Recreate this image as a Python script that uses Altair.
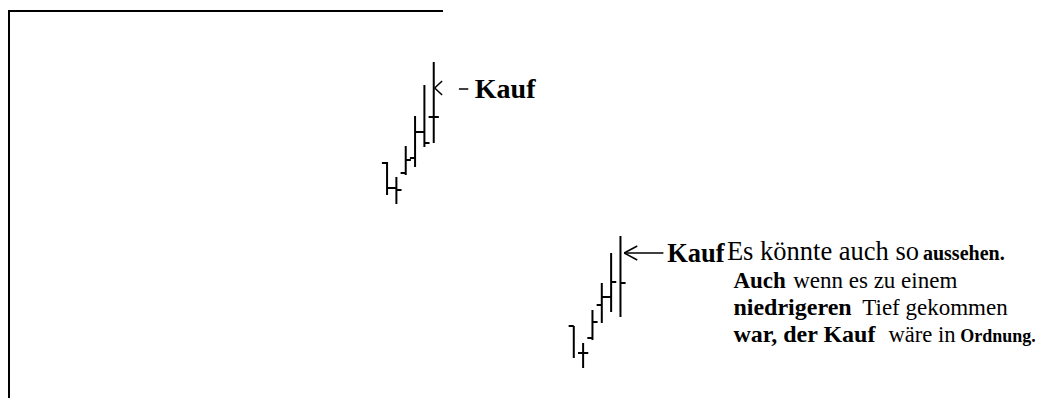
import altair as alt
import pandas as pd

# ---- OHLC bars (two groups) ----
days = [40, 41, 42, 43, 44, 45, 60, 61, 62, 63, 64, 65]
highs = [23.6, 22.1, 25.2, 28.2, 31.3, 33.6, 7.2, 5.5, 8.8, 11.5, 14.5, 16.2]
lows = [20.3, 19.4, 22.3, 23.1, 25.1, 25.5, 4.0, 3.0, 5.8, 7.5, 8.6, 8.1]
opens = [23.5, 21.0, 22.5, 24.0, 26.6, 28.1, 7.2, 4.5, 6.0, 9.3, 10.1, None]
closes = [21.0, 20.8, 23.8, 26.6, 25.5, 28.1, None, 4.5, 7.6, 10.1, 11.6, 11.5]

# ---- arrows ("<" and leader line) as segments ----
arrow_x1 = [45.1, 45.1, 47.7, 65.4, 65.4, 65.4]
arrow_x2 = [45.9, 45.9, 48.7, 66.8, 66.8, 69.6]
arrow_y1 = [31.0, 31.0, 30.9, 14.5, 14.5, 14.5]
arrow_y2 = [31.7, 30.3, 30.9, 15.2, 13.8, 14.5]

# ---- annotation text ----
bold_text = ["Kauf", "Kauf", "aussehen.", "Auch", "niedrigeren", "war, der Kauf", "Ordnung."]
bold_day = [49.4, 70.0, 97.4, 77.1, 77.1, 77.1, 101.4]
bold_price = [30.0, 13.6, 13.8, 11.0, 8.3, 5.6, 5.6]
bold_size = [28, 26.5, 20, 23, 24, 24, 18]

reg_text = ["Es könnte auch so", "wenn es zu einem", "Tief gekommen", "wäre in"]
reg_day = [76.4, 83.5, 90.9, 93.7]
reg_price = [13.8, 11.0, 8.3, 5.6]
reg_size = [26.5, 23, 23, 22.6]

bars_df = pd.DataFrame({"day": days, "high": highs, "low": lows,
                        "open": opens, "close": closes})
arrows_df = pd.DataFrame({"x1": arrow_x1, "x2": arrow_x2, "y1": arrow_y1, "y2": arrow_y2})
bold_df = pd.DataFrame({"text": bold_text, "day": bold_day, "price": bold_price, "size": bold_size})
reg_df = pd.DataFrame({"text": reg_text, "day": reg_day, "price": reg_price, "size": reg_size})

xs = alt.Scale(domain=[-0.6, 109.4], nice=False, zero=False)
ys = alt.Scale(domain=[0, 39], nice=False, zero=False)

base = alt.Chart(bars_df)

bars = base.mark_rule(color="black", strokeWidth=2).encode(
    x=alt.X("day:Q", scale=xs, axis=None),
    y=alt.Y("high:Q", scale=ys, axis=None),
    y2="low:Q",
)

open_ticks = base.transform_filter("isValid(datum.open)").transform_calculate(
    xl="datum.day - 0.55"
).mark_rule(color="black", strokeWidth=2).encode(
    x=alt.X("xl:Q", scale=xs, axis=None),
    x2="day:Q",
    y=alt.Y("open:Q", scale=ys, axis=None),
)

close_ticks = base.transform_filter("isValid(datum.close)").transform_calculate(
    xr="datum.day + 0.55"
).mark_rule(color="black", strokeWidth=2).encode(
    x=alt.X("day:Q", scale=xs, axis=None),
    x2="xr:Q",
    y=alt.Y("close:Q", scale=ys, axis=None),
)

arrows = alt.Chart(arrows_df).mark_rule(color="black", strokeWidth=1.5).encode(
    x=alt.X("x1:Q", scale=xs, axis=None),
    x2="x2:Q",
    y=alt.Y("y1:Q", scale=ys, axis=None),
    y2="y2:Q",
)

bold_labels = alt.Chart(bold_df).mark_text(
    font="Liberation Serif", fontWeight="bold", align="left", baseline="alphabetic", color="black"
).encode(
    x=alt.X("day:Q", scale=xs, axis=None),
    y=alt.Y("price:Q", scale=ys, axis=None),
    text="text:N",
    size=alt.Size("size:Q", scale=None, legend=None),
)

reg_labels = alt.Chart(reg_df).mark_text(
    font="Liberation Serif", fontWeight="normal", align="left", baseline="alphabetic", color="black"
).encode(
    x=alt.X("day:Q", scale=xs, axis=None),
    y=alt.Y("price:Q", scale=ys, axis=None),
    text="text:N",
    size=alt.Size("size:Q", scale=None, legend=None),
)

frame_left = alt.Chart(bars_df).mark_rule(color="black", strokeWidth=2).encode(
    x=alt.value(1), y=alt.value(3), y2=alt.value(390)
)
frame_top = alt.Chart(bars_df).mark_rule(color="black", strokeWidth=2).encode(
    x=alt.value(0), x2=alt.value(435), y=alt.value(3)
)

chart = alt.layer(
    frame_left, frame_top, bars, open_ticks, close_ticks, arrows, bold_labels, reg_labels
).properties(
    width=1027, height=390, padding=0, autosize="none", background="white"
).configure_view(stroke=None)

chart.save("out.html", embed_options={"renderer": "svg", "actions": False})
